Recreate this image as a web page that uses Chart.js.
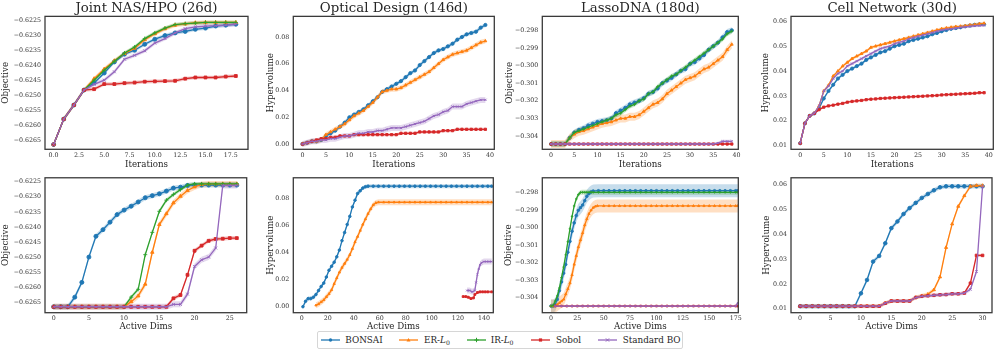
<!DOCTYPE html>
<html><head><meta charset="utf-8">
<script src="https://cdn.jsdelivr.net/npm/chart.js@4"></script>
<style>
html,body{margin:0;padding:0;background:#fff;}
body{width:996px;height:351px;position:relative;overflow:hidden;font-family:'DejaVu Serif',serif;}
canvas{position:absolute;}
.lg{position:absolute;font-family:'DejaVu Serif',serif;font-size:8.8px;color:#262626;line-height:10px;white-space:nowrap;}
.lg sub{font-size:0.7em;vertical-align:-0.25em;line-height:0;}
</style></head><body>
<script>
// ---------- series meta ----------
const seriesNames = ['BONSAI', 'ER-<i>L</i><sub>0</sub>', 'IR-<i>L</i><sub>0</sub>', 'Sobol', 'Standard BO'];
const seriesColors = ['#1f77b4', '#ff7f0e', '#2ca02c', '#d62728', '#9467bd'];
const seriesMarkers = ['circle', 'triangle', 'cross', 'rect', 'crossRot'];

// ---------- x positions ----------
const iter19 = [0,1,2,3,4,5,6,7,8,9,10,11,12,13,14,15,16,17,18];
const iter40 = [0,1,2,3,4,5,6,7,8,9,10,11,12,13,14,15,16,17,18,19,20,21,22,23,24,25,26,27,28,29,30,31,32,33,34,35,36,37,38,39];
const dims27 = [0,1,2,3,4,5,6,7,8,9,10,11,12,13,14,15,16,17,18,19,20,21,22,23,24,25,26];
const dims31 = [0,1,2,3,4,5,6,7,8,9,10,11,12,13,14,15,16,17,18,19,20,21,22,23,24,25,26,27,28,29,30];

// ---------- tick labels ----------
const ticksNasY = [-0.6265,-0.6260,-0.6255,-0.6250,-0.6245,-0.6240,-0.6235,-0.6230,-0.6225];
const ticksHvY = [0.00,0.02,0.04,0.06,0.08];
const ticksLassoY = [-0.304,-0.303,-0.302,-0.301,-0.300,-0.299,-0.298];
const ticksCellY = [0.01,0.02,0.03,0.04,0.05,0.06];
const ticksIterNasX = [0,2.5,5,7.5,10,12.5,15,17.5];
const ticksIter40X = [0,5,10,15,20,25,30,35,40];
const ticksDimsNasX = [0,5,10,15,20,25];
const ticksDimsOptX = [0,20,40,60,80,100,120,140];
const ticksDimsLassoX = [0,25,50,75,100,125,150,175];
const ticksDimsCellX = [0,5,10,15,20,25,30];

// ---------- Joint NAS/HPO vs iterations ----------
const nasIterBonsai = [-0.62665,-0.6258,-0.62533,-0.62483,-0.62459,-0.62426,-0.62389,-0.62363,-0.6235,-0.6233,-0.62313,-0.62301,-0.62292,-0.62287,-0.6228,-0.62276,-0.62269,-0.62266,-0.62263];
const nasIterER = [-0.62665,-0.6258,-0.62533,-0.62483,-0.62445,-0.62413,-0.62385,-0.62361,-0.62343,-0.62315,-0.62295,-0.62278,-0.62266,-0.62262,-0.62258,-0.62257,-0.62257,-0.62257,-0.62257];
const nasIterIR = [-0.62665,-0.6258,-0.62533,-0.62483,-0.6245,-0.62417,-0.62387,-0.62359,-0.62339,-0.62311,-0.62292,-0.62276,-0.62264,-0.62261,-0.62259,-0.62257,-0.62257,-0.62257,-0.62257];
const nasIterSobol = [-0.62665,-0.6258,-0.62533,-0.62483,-0.6248,-0.62463,-0.62463,-0.6246,-0.62458,-0.62455,-0.62454,-0.62453,-0.62452,-0.62445,-0.62441,-0.62441,-0.62441,-0.62438,-0.62436];
const nasIterBO = [-0.62665,-0.6258,-0.62533,-0.62483,-0.62464,-0.6245,-0.62422,-0.6238,-0.62367,-0.62352,-0.62326,-0.62311,-0.62292,-0.62278,-0.62272,-0.62269,-0.62268,-0.62266,-0.62263];

// ---------- Optical Design vs iterations ----------
const optIterBonsai = [0.000,0.001,0.002,0.002,0.003,0.006,0.008,0.010,0.013,0.016,0.020,0.022,0.024,0.026,0.029,0.032,0.035,0.039,0.041,0.043,0.045,0.047,0.050,0.053,0.055,0.059,0.062,0.065,0.068,0.070,0.071,0.073,0.075,0.078,0.080,0.082,0.083,0.084,0.087,0.089];
const optIterER = [0.000,0.001,0.002,0.002,0.003,0.007,0.009,0.011,0.013,0.015,0.018,0.021,0.023,0.025,0.028,0.031,0.035,0.039,0.040,0.041,0.041,0.042,0.044,0.046,0.048,0.050,0.052,0.054,0.057,0.060,0.063,0.065,0.067,0.068,0.069,0.070,0.072,0.074,0.076,0.077];
const optIterSobol = [0.000,0.001,0.002,0.003,0.004,0.004,0.005,0.005,0.006,0.006,0.006,0.007,0.007,0.007,0.007,0.007,0.007,0.007,0.007,0.007,0.007,0.008,0.008,0.008,0.008,0.009,0.009,0.009,0.009,0.009,0.010,0.010,0.010,0.011,0.011,0.011,0.011,0.011,0.011,0.011];
const optIterBO = [0.000,0.001,0.002,0.002,0.003,0.003,0.004,0.004,0.005,0.006,0.006,0.007,0.008,0.008,0.009,0.009,0.010,0.010,0.011,0.012,0.012,0.012,0.013,0.014,0.015,0.016,0.017,0.019,0.021,0.022,0.024,0.025,0.028,0.028,0.028,0.030,0.031,0.032,0.033,0.033];

// ---------- LassoDNA vs iterations ----------
const lassoIterBonsai = [-0.30445,-0.30445,-0.30445,-0.30445,-0.3041,-0.3038,-0.30365,-0.30355,-0.3034,-0.3033,-0.3032,-0.30315,-0.3031,-0.3030,-0.3027,-0.30255,-0.3024,-0.3022,-0.3021,-0.3020,-0.30185,-0.3016,-0.3015,-0.3013,-0.3010,-0.30085,-0.3007,-0.3005,-0.3003,-0.3002,-0.2999,-0.2998,-0.2996,-0.2994,-0.2991,-0.2989,-0.2987,-0.2984,-0.2981,-0.2980];
const lassoIterER = [-0.30445,-0.30445,-0.30445,-0.30445,-0.3041,-0.3039,-0.30375,-0.3037,-0.3036,-0.3035,-0.3034,-0.3033,-0.30325,-0.3032,-0.3031,-0.3030,-0.3030,-0.3029,-0.3029,-0.3028,-0.3026,-0.3024,-0.3022,-0.3021,-0.3019,-0.3016,-0.3014,-0.3012,-0.3010,-0.3008,-0.3007,-0.3006,-0.3004,-0.3002,-0.3001,-0.2999,-0.2997,-0.2995,-0.2991,-0.2988];
const lassoIterIR = [-0.30445,-0.30445,-0.30445,-0.30445,-0.3041,-0.3038,-0.3037,-0.3036,-0.3035,-0.3034,-0.3033,-0.3032,-0.3031,-0.3030,-0.3028,-0.3027,-0.3025,-0.3023,-0.3022,-0.3020,-0.3019,-0.3016,-0.3015,-0.3012,-0.3010,-0.3008,-0.3006,-0.3005,-0.3003,-0.3001,-0.2999,-0.2997,-0.2995,-0.2993,-0.2991,-0.2989,-0.2987,-0.2985,-0.2982,-0.29805];
const lassoIterSobol = [-0.30445,-0.30445,-0.30445,-0.30445,-0.30445,-0.30445,-0.30445,-0.30445,-0.30445,-0.30445,-0.30445,-0.30445,-0.30445,-0.30445,-0.30445,-0.30445,-0.30445,-0.30445,-0.30445,-0.30445,-0.30445,-0.30445,-0.30445,-0.30445,-0.30445,-0.30445,-0.30445,-0.30445,-0.30445,-0.30445,-0.30445,-0.30445,-0.30445,-0.30445,-0.30445,-0.30445,-0.30445,-0.30445,-0.30445,-0.30445];
const lassoIterBO = [-0.30445,-0.30445,-0.30445,-0.30445,-0.30445,-0.30445,-0.30445,-0.30445,-0.30445,-0.30445,-0.30445,-0.30445,-0.30445,-0.30445,-0.30445,-0.30445,-0.30445,-0.30445,-0.30445,-0.30445,-0.30445,-0.30445,-0.30445,-0.30445,-0.30445,-0.30445,-0.30445,-0.30445,-0.30445,-0.30445,-0.30445,-0.30445,-0.30445,-0.30445,-0.30445,-0.30445,-0.3044,-0.3043,-0.3043,-0.3043];

// ---------- Cell Network vs iterations ----------
const cellIterBonsai = [0.011,0.019,0.022,0.023,0.025,0.029,0.032,0.0345,0.037,0.0385,0.040,0.041,0.042,0.043,0.0445,0.0455,0.0465,0.0475,0.048,0.049,0.050,0.0505,0.051,0.052,0.0525,0.053,0.0535,0.054,0.0548,0.0553,0.056,0.0565,0.057,0.0573,0.0576,0.058,0.0583,0.0586,0.0588,0.0588];
const cellIterER = [0.011,0.019,0.022,0.023,0.026,0.032,0.0343,0.038,0.040,0.042,0.0435,0.045,0.046,0.047,0.048,0.0495,0.050,0.0505,0.051,0.0515,0.052,0.0525,0.053,0.0535,0.054,0.0545,0.055,0.0555,0.056,0.0565,0.057,0.0573,0.0576,0.0579,0.058,0.0582,0.0585,0.0587,0.059,0.0592];
const cellIterSobol = [0.011,0.019,0.022,0.023,0.0245,0.0255,0.026,0.0263,0.0267,0.027,0.0275,0.0278,0.028,0.0282,0.0285,0.0287,0.0288,0.029,0.0291,0.0292,0.0293,0.0294,0.0295,0.0296,0.0297,0.0298,0.0299,0.0300,0.0301,0.0302,0.0304,0.0305,0.0306,0.0307,0.0308,0.0309,0.031,0.0311,0.0313,0.0313];
const cellIterBO = [0.011,0.019,0.022,0.023,0.026,0.032,0.034,0.037,0.039,0.040,0.042,0.043,0.044,0.045,0.046,0.047,0.048,0.049,0.0495,0.050,0.051,0.0515,0.052,0.053,0.0535,0.054,0.0545,0.055,0.0555,0.056,0.0565,0.0568,0.057,0.0573,0.0576,0.0578,0.058,0.0582,0.0583,0.0584];

// ---------- Joint NAS/HPO vs active dims ----------
const nasDimBonsai = [-0.62665,-0.62665,-0.62665,-0.62633,-0.62584,-0.625,-0.62431,-0.62409,-0.62384,-0.62359,-0.62344,-0.62331,-0.62317,-0.62303,-0.62296,-0.6229,-0.62281,-0.62271,-0.62268,-0.62262,-0.62261,-0.62261,-0.62261,-0.62261,-0.62261,-0.62261,-0.62261];
const nasDimER = [-0.62665,-0.62665,-0.62665,-0.62665,-0.62665,-0.62665,-0.62665,-0.62665,-0.62665,-0.62665,-0.62665,-0.62648,-0.62629,-0.6259,-0.62484,-0.62392,-0.62356,-0.6232,-0.62298,-0.62279,-0.62267,-0.62259,-0.62257,-0.62257,-0.62257,-0.62257,-0.62257];
const nasDimIR = [-0.62665,-0.62665,-0.62665,-0.62665,-0.62665,-0.62665,-0.62665,-0.62665,-0.62665,-0.62665,-0.62665,-0.62633,-0.62607,-0.62492,-0.62418,-0.62348,-0.62311,-0.62292,-0.62276,-0.62261,-0.62257,-0.62257,-0.62257,-0.62257,-0.62257,-0.62257,-0.62257];
const nasDimSobol = [-0.62665,-0.62665,-0.62665,-0.62665,-0.62665,-0.62665,-0.62665,-0.62665,-0.62665,-0.62665,-0.62665,-0.62665,-0.62665,-0.62665,-0.62665,-0.62665,-0.62665,-0.62637,-0.62626,-0.62559,-0.62479,-0.62462,-0.62446,-0.6244,-0.62439,-0.62437,-0.62437];
const nasDimBO = [-0.62665,-0.62665,-0.62665,-0.62665,-0.62665,-0.62665,-0.62665,-0.62665,-0.62665,-0.62665,-0.62665,-0.62665,-0.62665,-0.62665,-0.62665,-0.62665,-0.62665,-0.62657,-0.62657,-0.62623,-0.62531,-0.62509,-0.625,-0.6247,-0.62262,-0.62262,-0.62262];

// ---------- Optical Design vs active dims ----------
const optDimBonsaiX = [1,3,5,7,9,11,13,15,17,19,21,23,25,27,29,31,33,35,37,39,41,43,45,47,49,51,55,59,63,67,71,75,79,83,87,91,95,99,103,107,111,115,119,123,127,131,135,139,143,146];
const optDimBonsai = [0.000,0.004,0.006,0.006,0.007,0.009,0.012,0.015,0.0175,0.022,0.027,0.030,0.033,0.037,0.042,0.049,0.055,0.061,0.067,0.074,0.079,0.084,0.086,0.088,0.089,0.0894,0.0894,0.0894,0.0894,0.0894,0.0894,0.0894,0.0894,0.0894,0.0894,0.0894,0.0894,0.0894,0.0894,0.0894,0.0894,0.0894,0.0894,0.0894,0.0894,0.0894,0.0894,0.0894,0.0894,0.0894];
const optDimERX = [11,13,15,17,19,21,23,25,27,29,31,33,35,37,39,41,43,45,47,49,51,53,55,57,59,63,67,71,75,79,83,87,91,95,99,103,107,111,115,119,123,127,131,135,139,143,146];
const optDimER = [0.001,0.002,0.0035,0.005,0.0073,0.0095,0.0124,0.017,0.0213,0.0255,0.029,0.032,0.035,0.0385,0.043,0.048,0.052,0.0565,0.061,0.065,0.069,0.0725,0.0755,0.077,0.0775,0.0775,0.0775,0.0775,0.0775,0.0775,0.0775,0.0775,0.0775,0.0775,0.0775,0.0775,0.0775,0.0775,0.0775,0.0775,0.0775,0.0775,0.0775,0.0775,0.0775,0.0775,0.0775];
const optDimSobolX = [124,126,128,130,132,133,135,137,139,141,143,146];
const optDimSobol = [0.0075,0.0075,0.007,0.006,0.0065,0.009,0.0105,0.011,0.011,0.011,0.011,0.011];
const optDimBOX = [127,129,131,133,134,135,136,137,138,140,142,144,146];
const optDimBO = [0.012,0.012,0.011,0.012,0.018,0.024,0.028,0.031,0.0325,0.0335,0.0335,0.0335,0.0335];

// ---------- LassoDNA vs active dims ----------
const lassoDimBonsaiX = [0,2,4,6,8,10,12,14,16,18,20,22,24,26,28,30,32,34,36,38,40,45,50,55,60,65,70,75,80,85,90,95,100,105,110,115,120,125,130,135,140,145,150,155,160,165,170,175,177];
const lassoDimBonsai = [-0.30448,-0.30448,-0.3044,-0.3041,-0.3036,-0.3031,-0.3026,-0.3021,-0.3014,-0.30078,-0.3002,-0.29972,-0.2993,-0.2990,-0.29885,-0.2987,-0.29845,-0.2982,-0.29805,-0.29795,-0.2979,-0.29788,-0.29788,-0.29788,-0.29788,-0.29788,-0.29788,-0.29788,-0.29788,-0.29788,-0.29788,-0.29788,-0.29788,-0.29788,-0.29788,-0.29788,-0.29788,-0.29788,-0.29788,-0.29788,-0.29788,-0.29788,-0.29788,-0.29788,-0.29788,-0.29788,-0.29788,-0.29788,-0.29788];
const lassoDimIRX = [0,2,4,6,8,10,12,14,16,18,20,22,24,26,28,30,32,34,36,38,40,45,50,55,60,65,70,75,80,85,90,95,100,105,110,115,120,125,130,135,140,145,150,155,160,165,170,175,177];
const lassoDimIR = [-0.30448,-0.30445,-0.3042,-0.3039,-0.30345,-0.30285,-0.30225,-0.30155,-0.3008,-0.30006,-0.29935,-0.29875,-0.29835,-0.2981,-0.29798,-0.29797,-0.29797,-0.29797,-0.29797,-0.29797,-0.29797,-0.29797,-0.29797,-0.29797,-0.29797,-0.29797,-0.29797,-0.29797,-0.29797,-0.29797,-0.29797,-0.29797,-0.29797,-0.29797,-0.29797,-0.29797,-0.29797,-0.29797,-0.29797,-0.29797,-0.29797,-0.29797,-0.29797,-0.29797,-0.29797,-0.29797,-0.29797,-0.29797,-0.29797];
const lassoDimERX = [0,2,4,6,8,10,12,14,16,18,20,22,24,26,28,30,32,34,36,38,40,42,44,50,55,60,65,70,75,80,85,90,95,100,105,110,115,120,125,130,135,140,145,150,155,160,165,170,175,177];
const lassoDimER = [-0.30448,-0.30448,-0.30448,-0.3044,-0.3043,-0.3042,-0.3041,-0.3038,-0.3035,-0.30317,-0.3027,-0.3021,-0.3016,-0.3011,-0.3007,-0.3003,-0.29985,-0.2995,-0.2992,-0.2990,-0.29885,-0.29878,-0.29875,-0.29875,-0.29875,-0.29875,-0.29875,-0.29875,-0.29875,-0.29875,-0.29875,-0.29875,-0.29875,-0.29875,-0.29875,-0.29875,-0.29875,-0.29875,-0.29875,-0.29875,-0.29875,-0.29875,-0.29875,-0.29875,-0.29875,-0.29875,-0.29875,-0.29875,-0.29875,-0.29875];
const lassoDimFlatX = [4,10,15,20,25,30,35,40,45,50,55,60,65,70,75,80,85,90,95,100,105,110,115,120,125,130,135,140,145,150,155,160,165,170,175,177];
const lassoDimSobol = [-0.30448,-0.30448,-0.30448,-0.30448,-0.30448,-0.30448,-0.30448,-0.30448,-0.30448,-0.30448,-0.30448,-0.30448,-0.30448,-0.30448,-0.30448,-0.30448,-0.30448,-0.30448,-0.30448,-0.30448,-0.30448,-0.30448,-0.30448,-0.30448,-0.30448,-0.30448,-0.30448,-0.30448,-0.30448,-0.30448,-0.30448,-0.30448,-0.30448,-0.30448,-0.30448,-0.30448];
const lassoDimBO = [-0.30448,-0.30448,-0.30448,-0.30448,-0.30448,-0.30448,-0.30448,-0.30448,-0.30448,-0.30448,-0.30448,-0.30448,-0.30448,-0.30448,-0.30448,-0.30448,-0.30448,-0.30448,-0.30448,-0.30448,-0.30448,-0.30448,-0.30448,-0.30448,-0.30448,-0.30448,-0.30448,-0.30448,-0.30448,-0.30448,-0.30448,-0.30448,-0.30448,-0.30448,-0.30448,-0.3043];

// ---------- Cell Network vs active dims ----------
const cellDimBonsai = [0.011,0.011,0.011,0.011,0.011,0.011,0.011,0.011,0.011,0.011,0.0162,0.0216,0.029,0.0313,0.0364,0.0425,0.0452,0.0482,0.0506,0.0527,0.0547,0.0563,0.0578,0.059,0.0594,0.0594,0.0594,0.0594,0.0594,0.0594,0.0594];
const cellDimER = [0.011,0.011,0.011,0.011,0.011,0.011,0.011,0.011,0.011,0.011,0.011,0.011,0.011,0.011,0.0122,0.0131,0.0131,0.0131,0.0131,0.0145,0.0152,0.0158,0.0176,0.0228,0.0347,0.0442,0.0513,0.0556,0.0594,0.0597,0.0597];
const cellDimSobol = [0.011,0.011,0.011,0.011,0.011,0.011,0.011,0.011,0.011,0.011,0.011,0.011,0.011,0.011,0.0122,0.0131,0.0131,0.0131,0.0131,0.0145,0.015,0.0152,0.0154,0.0156,0.0157,0.016,0.016,0.0163,0.0203,0.0315,0.0315];
const cellDimBO = [0.011,0.011,0.011,0.011,0.011,0.011,0.011,0.011,0.011,0.011,0.011,0.011,0.011,0.011,0.0122,0.0131,0.0131,0.0131,0.0131,0.0145,0.015,0.0152,0.0154,0.0156,0.0157,0.016,0.016,0.0163,0.0178,0.025,0.0594];

// ================= rendering =================
const FONT = "'DejaVu Serif', serif";
const TXT = '#262626';
const TICK_SIZE = 6.3, LABEL_SIZE = 8.7, TITLE_SIZE = 13.3;

function fmt(v, d) { return Number(v).toFixed(d).replace('-', '\u2212'); }
function rgba(hex, a) {
  const n = parseInt(hex.slice(1), 16);
  return `rgba(${(n >> 16) & 255},${(n >> 8) & 255},${n & 255},${a})`;
}
function pts(xs, ys) { return xs.map((x, i) => ({ x: x, y: ys[i] })); }

const shadePlugin = {
  id: 'shade',
  beforeDatasetsDraw(chart) {
    const ctx = chart.ctx, a = chart.chartArea;
    ctx.save();
    ctx.beginPath(); ctx.rect(a.left, a.top, a.right - a.left, a.bottom - a.top); ctx.clip();
    chart.data.datasets.forEach((ds, i) => {
      const h = ds.shade; if (!h) return;
      const el = chart.getDatasetMeta(i).data;
      ctx.beginPath();
      el.forEach((p, j) => j ? ctx.lineTo(p.x, p.y - h) : ctx.moveTo(p.x, p.y - h));
      for (let j = el.length - 1; j >= 0; j--) ctx.lineTo(el[j].x, el[j].y + h);
      ctx.closePath();
      ctx.fillStyle = ds.shadeColor; ctx.fill();
    });
    ctx.restore();
  }
};
const framePlugin = {
  id: 'frame',
  afterDraw(chart) {
    const a = chart.chartArea, ctx = chart.ctx;
    ctx.save(); ctx.strokeStyle = '#3a3a3a'; ctx.lineWidth = 1.3;
    ctx.strokeRect(a.left, a.top, a.right - a.left, a.bottom - a.top);
    ctx.restore();
  }
};

function makePanel(p) {
  const topSpace = p.title ? 16 : 8;
  const padR = 8;
  const left = Math.floor(p.box.l - p.yW);
  const top = Math.max(0, Math.floor(p.box.t - topSpace));
  const right = Math.ceil(p.box.r + padR);
  const bottom = Math.ceil(p.box.b + p.xH);
  const W = right - left, H = bottom - top;
  const cv = document.createElement('canvas');
  cv.width = W; cv.height = H;
  cv.style.left = left + 'px'; cv.style.top = top + 'px';
  cv.style.width = W + 'px'; cv.style.height = H + 'px';
  document.body.appendChild(cv);

  const datasets = p.series.map(s => ({
    data: pts(s.x, s.y),
    borderColor: seriesColors[s.k],
    backgroundColor: seriesColors[s.k],
    pointBackgroundColor: seriesColors[s.k],
    pointBorderColor: seriesColors[s.k],
    pointStyle: seriesMarkers[s.k],
    pointRadius: p.mr,
    pointBorderWidth: 0.9,
    borderWidth: 1.3,
    tension: 0,
    fill: false,
    order: 10 - s.k,
    shade: s.shade,
    shadeColor: rgba(seriesColors[s.k], 0.25)
  }));

  const tickFont = { family: FONT, size: TICK_SIZE };
  const labFont = { family: FONT, size: LABEL_SIZE };
  new Chart(cv, {
    type: 'line',
    data: { datasets },
    options: {
      responsive: false, animation: false, devicePixelRatio: 1,
      events: [],
      layout: { padding: {
        left: p.box.l - p.yW - left,
        top: p.box.t - topSpace - top,
        right: right - p.box.r,
        bottom: bottom - p.box.b - p.xH } },
      plugins: {
        legend: { display: false }, tooltip: { enabled: false },
        title: { display: !!p.title, text: p.title || '', fullSize: false, color: TXT,
          font: { family: FONT, size: TITLE_SIZE, weight: 'normal', lineHeight: 1.2 },
          padding: { top: 0.4, bottom: 0 } }
      },
      scales: {
        x: {
          type: 'linear', min: p.xMin, max: p.xMax,
          afterBuildTicks: s => { s.ticks = p.xTicks.map(v => ({ value: v })); },
          afterFit: s => { s.height = p.xH; },
          grid: { display: false, drawTicks: false }, border: { display: false },
          ticks: { font: tickFont, color: '#333', padding: p.xPad, autoSkip: false, maxRotation: 0, minRotation: 0,
            callback: v => fmt(v, p.xDec) },
          title: { display: true, text: p.xLabel, font: labFont, color: TXT, padding: 0 }
        },
        y: {
          type: 'linear', min: p.yMin, max: p.yMax,
          afterBuildTicks: s => { s.ticks = p.yTicks.map(v => ({ value: v })); },
          afterFit: s => { s.width = p.yW; },
          grid: { display: false, drawTicks: false }, border: { display: false },
          ticks: { font: tickFont, color: '#333', padding: 4, autoSkip: false,
            callback: v => fmt(v, p.yDec) },
          title: { display: true, text: p.yLabel, font: labFont, color: TXT, padding: 0 }
        }
      }
    },
    plugins: [shadePlugin, framePlugin]
  });
}

const R1 = { t: 16, b: 149.3 }, R2 = { t: 178.3, b: 312.7 };
const panels = [
  { box: { l: 45, r: 248, ...R1 }, yW: 44, xH: 20.6, xPad: 2.5, title: 'Joint NAS/HPO (26d)', xLabel: 'Iterations', yLabel: 'Objective',
    xMin: -0.85, xMax: 19.2, yMin: -0.62681, yMax: -0.622367, xTicks: ticksIterNasX, yTicks: ticksNasY, xDec: 1, yDec: 4, mr: 2,
    series: [
      { k: 0, x: iter19, y: nasIterBonsai, shade: 1.8 },
      { k: 1, x: iter19, y: nasIterER, shade: 2 },
      { k: 2, x: iter19, y: nasIterIR, shade: 1.8 },
      { k: 3, x: iter19, y: nasIterSobol, shade: 1.8 },
      { k: 4, x: iter19, y: nasIterBO, shade: 2 } ] },
  { box: { l: 293.3, r: 494.3, ...R1 }, yW: 28, xH: 20.6, xPad: 2.5, title: 'Optical Design (146d)', xLabel: 'Iterations', yLabel: 'Hypervolume',
    xMin: -1.95, xMax: 40.9, yMin: -0.00395, yMax: 0.09544, xTicks: ticksIter40X, yTicks: ticksHvY, xDec: 0, yDec: 2, mr: 1.6,
    series: [
      { k: 0, x: iter40, y: optIterBonsai, shade: 2 },
      { k: 1, x: iter40, y: optIterER, shade: 2.5 },
      { k: 3, x: iter40, y: optIterSobol, shade: 1.5 },
      { k: 4, x: iter40, y: optIterBO, shade: 3 } ] },
  { box: { l: 542.3, r: 738.3, ...R1 }, yW: 38, xH: 20.6, xPad: 2.5, title: 'LassoDNA (180d)', xLabel: 'Iterations', yLabel: 'Objective',
    xMin: -1.9, xMax: 40.4, yMin: -0.30475, yMax: -0.29721, xTicks: ticksIter40X, yTicks: ticksLassoY, xDec: 0, yDec: 3, mr: 1.6,
    series: [
      { k: 0, x: iter40, y: lassoIterBonsai, shade: 3 },
      { k: 1, x: iter40, y: lassoIterER, shade: 4 },
      { k: 2, x: iter40, y: lassoIterIR, shade: 2.5 },
      { k: 3, x: iter40, y: lassoIterSobol, shade: 1 },
      { k: 4, x: iter40, y: lassoIterBO, shade: 1.5 } ] },
  { box: { l: 791, r: 993.3, ...R1 }, yW: 30, xH: 20.6, xPad: 2.5, title: 'Cell Network (30d)', xLabel: 'Iterations', yLabel: 'Hypervolume',
    xMin: -1.95, xMax: 40.95, yMin: 0.00856, yMax: 0.0620, xTicks: ticksIter40X, yTicks: ticksCellY, xDec: 0, yDec: 2, mr: 1.6,
    series: [
      { k: 0, x: iter40, y: cellIterBonsai, shade: 1.5 },
      { k: 1, x: iter40, y: cellIterER, shade: 1.5 },
      { k: 3, x: iter40, y: cellIterSobol, shade: 1.2 },
      { k: 4, x: iter40, y: cellIterBO, shade: 1.5 } ] },
  { box: { l: 45, r: 246.7, ...R2 }, yW: 44, xH: 18.9, xPad: 1.5, xLabel: 'Active Dims', yLabel: 'Objective',
    xMin: -1.23, xMax: 27.4, yMin: -0.626847, yMax: -0.622367, xTicks: ticksDimsNasX, yTicks: ticksNasY, xDec: 0, yDec: 4, mr: 2,
    series: [
      { k: 0, x: dims27, y: nasDimBonsai, shade: 2.5 },
      { k: 1, x: dims27, y: nasDimER, shade: 3 },
      { k: 2, x: dims27, y: nasDimIR, shade: 2 },
      { k: 3, x: dims27, y: nasDimSobol, shade: 2 },
      { k: 4, x: dims27, y: nasDimBO, shade: 3 } ] },
  { box: { l: 293.3, r: 493.3, ...R2 }, yW: 28, xH: 18.9, xPad: 1.5, xLabel: 'Active Dims', yLabel: 'Hypervolume',
    xMin: -6.4, xMax: 147.2, yMin: -0.00447, yMax: 0.09564, xTicks: ticksDimsOptX, yTicks: ticksHvY, xDec: 0, yDec: 2, mr: 1.3,
    series: [
      { k: 0, x: optDimBonsaiX, y: optDimBonsai, shade: 2 },
      { k: 1, x: optDimERX, y: optDimER, shade: 3 },
      { k: 3, x: optDimSobolX, y: optDimSobol, shade: 1.5 },
      { k: 4, x: optDimBOX, y: optDimBO, shade: 3 } ] },
  { box: { l: 542.3, r: 738.3, ...R2 }, yW: 39, xH: 18.9, xPad: 1.5, xLabel: 'Active Dims', yLabel: 'Objective',
    xMin: -8.2, xMax: 177.5, yMin: -0.30486, yMax: -0.29714, xTicks: ticksDimsLassoX, yTicks: ticksLassoY, xDec: 0, yDec: 3, mr: 1.3,
    series: [
      { k: 0, x: lassoDimBonsaiX, y: lassoDimBonsai, shade: 6.5 },
      { k: 1, x: lassoDimERX, y: lassoDimER, shade: 6.5 },
      { k: 2, x: lassoDimIRX, y: lassoDimIR, shade: 2.5 },
      { k: 3, x: lassoDimFlatX, y: lassoDimSobol, shade: 1 },
      { k: 4, x: lassoDimFlatX, y: lassoDimBO, shade: 1 } ] },
  { box: { l: 791, r: 992, ...R2 }, yW: 29, xH: 18.9, xPad: 1.5, xLabel: 'Active Dims', yLabel: 'Hypervolume',
    xMin: -1.5, xMax: 31.55, yMin: 0.00838, yMax: 0.06284, xTicks: ticksDimsCellX, yTicks: ticksCellY, xDec: 0, yDec: 2, mr: 1.8,
    series: [
      { k: 0, x: dims31, y: cellDimBonsai, shade: 2.2 },
      { k: 1, x: dims31, y: cellDimER, shade: 2 },
      { k: 3, x: dims31, y: cellDimSobol, shade: 1.5 },
      { k: 4, x: dims31, y: cellDimBO, shade: 1.8 } ] }
];
panels.forEach(makePanel);

// ---------- legend ----------
function markerSVG(kind, c) {
  switch (kind) {
    case 'circle': return `<circle cx="9.5" cy="4" r="1.7" fill="${c}"/>`;
    case 'triangle': return `<polygon points="9.5,1.9 11.5,5.4 7.5,5.4" fill="${c}"/>`;
    case 'cross': return `<path d="M9.5 1.8V6.2M7.3 4H11.7" stroke="${c}" stroke-width="1"/>`;
    case 'rect': return `<rect x="7.9" y="2.4" width="3.2" height="3.2" fill="${c}"/>`;
    default: return `<path d="M7.9 2.4L11.1 5.6M11.1 2.4L7.9 5.6" stroke="${c}" stroke-width="1"/>`;
  }
}
const frame = document.createElement('div');
frame.style.cssText = 'position:absolute;left:317px;top:331px;width:366px;height:18px;border:1px solid #d6d6d6;border-radius:2px;box-sizing:border-box;background:#fff;';
document.body.appendChild(frame);
const lgLine = [320.7, 399.3, 466.7, 530.5, 597.7];
const lgText = [345.3, 424, 490.7, 556, 622.7];
seriesNames.forEach((name, k) => {
  const sv = document.createElementNS('http://www.w3.org/2000/svg', 'svg');
  sv.setAttribute('width', '19'); sv.setAttribute('height', '8');
  sv.style.cssText = `position:absolute;left:${lgLine[k]}px;top:336px;`;
  sv.innerHTML = `<line x1="0" y1="4" x2="19" y2="4" stroke="${seriesColors[k]}" stroke-width="1.3"/>` + markerSVG(seriesMarkers[k], seriesColors[k]);
  document.body.appendChild(sv);
  const t = document.createElement('div');
  t.className = 'lg';
  t.style.left = lgText[k] + 'px'; t.style.top = '335px';
  t.innerHTML = name;
  document.body.appendChild(t);
});
</script>
</body></html>
